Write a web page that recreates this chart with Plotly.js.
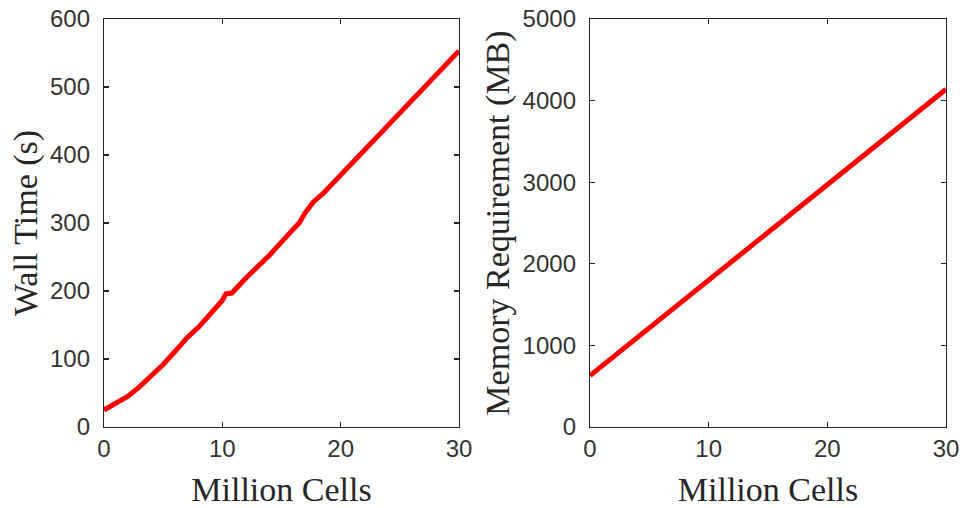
<!DOCTYPE html>
<html>
<head>
<meta charset="utf-8">
<script src="https://cdn.plot.ly/plotly-3.0.1.min.js"></script>
<style>html,body{margin:0;padding:0;background:#fff;}#chart{width:966px;height:508px;}</style>
</head>
<body>
<div id="chart"></div>
<script>
// Left panel: wall time vs million cells
const cellsTime = [0, 1, 2, 3, 4, 5, 6, 6.5, 7, 8, 9, 10, 10.3, 10.8, 12, 14, 16, 16.5, 17, 17.7, 18.5, 19.1, 20, 22, 24, 26, 28, 30];
const wallTime  = [25, 34, 45, 59, 75, 92, 111, 122, 131, 147, 166, 186, 196, 197, 219, 253, 291, 300, 315, 331, 343, 354, 370, 406, 442, 478, 515, 553];
// Right panel: memory requirement vs million cells
const cellsMem  = [0, 5, 10, 15, 20, 25, 30];
const memoryMB  = [630, 1215, 1800, 2380, 2965, 3550, 4140];

const xTicks = [0, 10, 20, 30];
const yTicksTime = [0, 100, 200, 300, 400, 500, 600];
const yTicksMem = [0, 1000, 2000, 3000, 4000, 5000];

const axisColor = '#262626';
const tickFont = {family: 'Liberation Sans, Arial, sans-serif', size: 24, color: '#333333'};
const titleFont = {family: 'Liberation Serif, Times New Roman, serif', size: 34, color: '#262626'};

const baseAxis = {
  showline: true, linecolor: axisColor, linewidth: 1.2, mirror: 'ticks',
  ticks: 'inside', ticklen: 5, tickcolor: axisColor, tickwidth: 1.2,
  showgrid: false, zeroline: false, tickfont: tickFont
};

const traces = [
  {x: cellsTime, y: wallTime, type: 'scatter', mode: 'lines',
   line: {color: '#ff0000', width: 5}, xaxis: 'x', yaxis: 'y', hoverinfo: 'skip'},
  {x: cellsMem, y: memoryMB, type: 'scatter', mode: 'lines',
   line: {color: '#ff0000', width: 5}, xaxis: 'x2', yaxis: 'y2', hoverinfo: 'skip'}
];

const layout = {
  width: 966, height: 508,
  margin: {l: 104, r: 20, t: 19, b: 81},
  paper_bgcolor: '#fff', plot_bgcolor: '#fff',
  showlegend: false,
  xaxis: Object.assign({}, baseAxis, {domain: [0, 0.4216], range: [0, 30], tickvals: xTicks,
    title: {text: 'Million Cells', font: titleFont, standoff: 16}}),
  yaxis: Object.assign({}, baseAxis, {domain: [0, 1], range: [0, 600], tickvals: yTicksTime, ticklabelstandoff: 8,
    title: {text: 'Wall Time (s)', font: titleFont, standoff: 2}}),
  xaxis2: Object.assign({}, baseAxis, {domain: [0.5772, 1], range: [0, 30], tickvals: xTicks, anchor: 'y2',
    title: {text: 'Million Cells', font: titleFont, standoff: 16}}),
  yaxis2: Object.assign({}, baseAxis, {domain: [0, 1], range: [0, 5000], tickvals: yTicksMem, anchor: 'x2', ticklabelstandoff: 8,
    title: {text: 'Memory Requirement (MB)', font: titleFont, standoff: 2}})
};

Plotly.newPlot('chart', traces, layout, {displayModeBar: false, staticPlot: true});
</script>
</body>
</html>
